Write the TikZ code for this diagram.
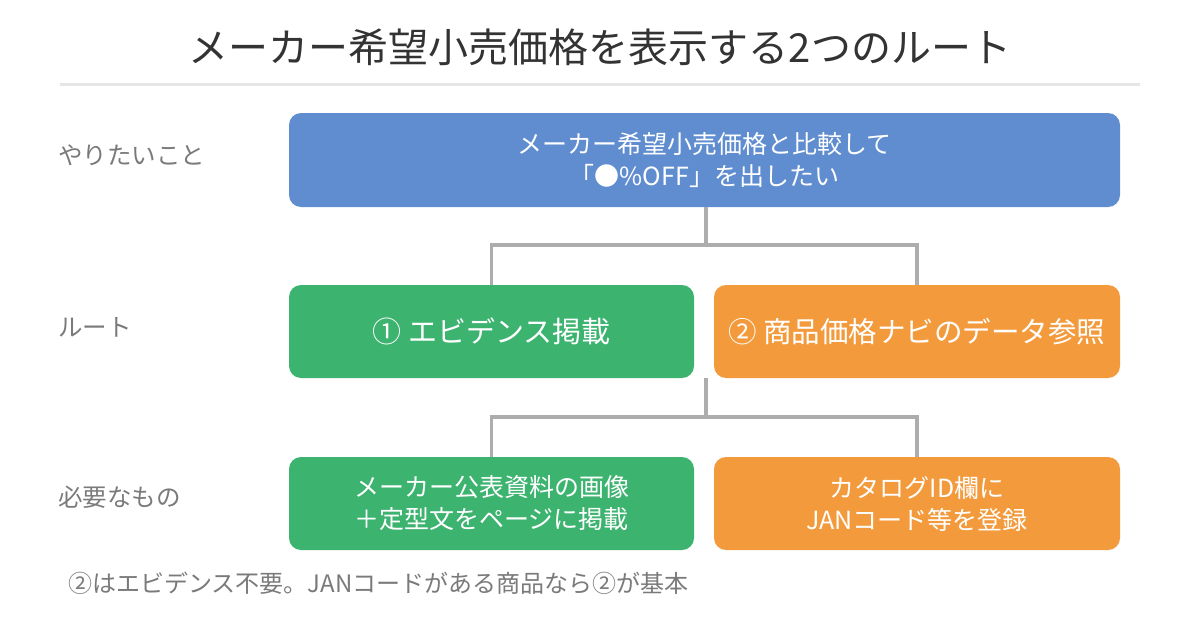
\documentclass[tikz,border=0pt]{standalone}
\usepackage{fontspec}
\setmainfont{Noto Sans CJK JP}
\usetikzlibrary{positioning,calc}

\definecolor{boxblue}{HTML}{5F8DCF}
\definecolor{boxgreen}{HTML}{3DB370}
\definecolor{boxorange}{HTML}{F39B3C}
\definecolor{linegray}{HTML}{ADADAD}
\definecolor{rulegray}{HTML}{E6E6E6}
\definecolor{labelgray}{HTML}{7A7A7A}
\definecolor{titlegray}{HTML}{333333}

\begin{document}
\begin{tikzpicture}[x=1pt,y=-1pt,
  card/.style={rounded corners=12pt,text=white,align=center,inner sep=0pt,
    minimum height=93pt,font=\fontsize{25}{32}\selectfont},
  rowlabel/.style={anchor=west,inner sep=0pt,text=labelgray,font=\fontsize{24.5}{28}\selectfont},
  conn/.style={draw=linegray,line width=3.5pt}]
\useasboundingbox (0,0) rectangle (1200,640);

% title and rule
\node[text=titlegray,font=\fontsize{40}{48}\selectfont] (title) at (600,47) {メーカー希望小売価格を表示する2つのルート};
\draw[rulegray,line width=3pt] (60,84) -- (1140,84);

% row labels
\node[rowlabel] (lwant) at (58,155) {やりたいこと};
\node[rowlabel] (lroute) at (58,327) {ルート};
\node[rowlabel] (lneed) at (58,497) {必要なもの};

% boxes
\node[card,fill=boxblue,minimum width=831pt,minimum height=94pt] (goal) at (704.5,160) {メーカー希望小売価格と比較して\\「●\%OFF」を出したい};
\node[card,fill=boxgreen,minimum width=405pt,font=\fontsize{29}{32}\selectfont] (route1) at (491.5,331.5) {① エビデンス掲載};
\node[card,fill=boxorange,minimum width=406pt,font=\fontsize{28.5}{32}\selectfont] (route2) at (917,331.5) {② 商品価格ナビのデータ参照};
\node[card,fill=boxgreen,minimum width=405pt] (need1) at (491.5,503.5) {メーカー公表資料の画像\\＋定型文をページに掲載};
\node[card,fill=boxorange,minimum width=406pt] (need2) at (917,503.5) {カタログID欄に\\JANコード等を登録};

% connectors
\coordinate (split1) at (706,245);
\draw[conn] (goal.south -| split1) -- (split1) -| (route1.north);
\draw[conn] (split1) -| (route2.north);
\coordinate (gap) at ($(route1.south east)!0.5!(route2.south west)$);
\coordinate (split2) at (706,417);
\draw[conn] (gap -| split2) -- (split2) -| (need1.north);
\draw[conn] (split2) -| (need2.north);

\node[rowlabel,font=\fontsize{24}{28}\selectfont] (note) at (68,583) {②はエビデンス不要。JANコードがある商品なら②が基本};
\end{tikzpicture}
\end{document}
